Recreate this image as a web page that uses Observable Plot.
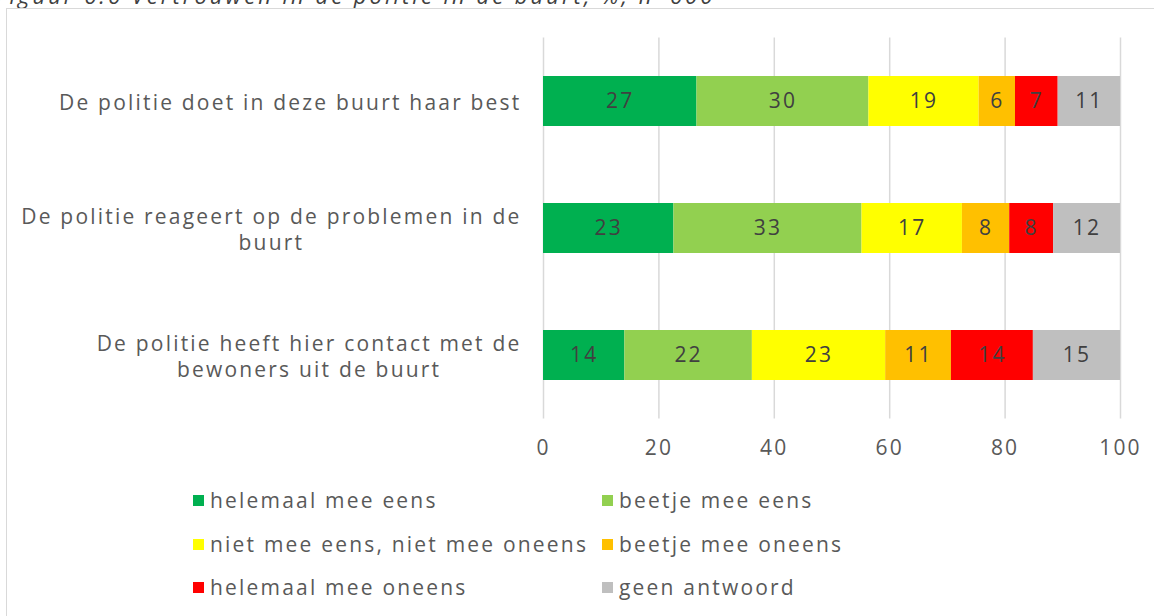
<!DOCTYPE html>
<html><head><meta charset="utf-8">
<script src="https://cdn.jsdelivr.net/npm/d3@7"></script>
<script src="https://cdn.jsdelivr.net/npm/@observablehq/plot@0.6"></script>
<style>
html,body{margin:0;padding:0;background:#fff;width:1154px;height:616px;overflow:hidden;position:relative;font-family:"Open Sans",sans-serif;}
#title{position:absolute;left:-4px;top:-15px;font-style:italic;font-size:22px;line-height:20px;color:#404040;letter-spacing:3px;white-space:nowrap;}
#frame{position:absolute;left:6px;top:8px;width:1300px;height:800px;border:1.5px solid #d9d9d9;box-sizing:border-box;}
#chart{position:absolute;left:0;top:0;}
#chart svg text{letter-spacing:2.2px;}
.item{position:absolute;height:28px;display:flex;align-items:center;font-size:21px;letter-spacing:2.2px;color:#595959;white-space:nowrap;}
.sw{width:11px;height:11px;margin-right:6px;flex:none;}
</style></head><body>
<div id="title">Figuur 6.6 Vertrouwen in de politie in de buurt, %, n=600</div>
<div id="frame"></div>
<div id="chart"></div>
<div id="legend"></div>
<script>
const items = [
  "De politie doet in deze buurt haar best",
  "De politie reageert op de problemen in de buurt",
  "De politie heeft hier contact met de bewoners uit de buurt"
];
const itemLabels = [
  "De politie doet in deze buurt haar best",
  "De politie reageert op de problemen in de\nbuurt",
  "De politie heeft hier contact met de\nbewoners uit de buurt"
];
const answers = [
  "helemaal mee eens",
  "beetje mee eens",
  "niet mee eens, niet mee oneens",
  "beetje mee oneens",
  "helemaal mee oneens",
  "geen antwoord"
];
const colors = ["#00B050", "#92D050", "#FFFF00", "#FFC000", "#FF0000", "#BFBFBF"];
const helemaalMeeEens   = [26.6, 22.6, 14.1];
const beetjeMeeEens     = [29.8, 32.6, 22.1];
const nietEensNietOneens= [19.1, 17.4, 23.1];
const beetjeMeeOneens   = [6.3, 8.2, 11.4];
const helemaalMeeOneens = [7.4, 7.6, 14.2];
const geenAntwoord      = [10.8, 11.6, 15.1];
const xTicks = [0, 20, 40, 60, 80, 100];

const series = [helemaalMeeEens, beetjeMeeEens, nietEensNietOneens, beetjeMeeOneens, helemaalMeeOneens, geenAntwoord];
const table = [];
items.forEach((item, i) => answers.forEach((answer, j) => table.push({item, answer, value: series[j][i]})));
const labelMap = new Map(items.map((d, i) => [d, itemLabels[i]]));
const fmt = d3.format(".0f");

const plot = Plot.plot({
  width: 1154,
  height: 470,
  marginLeft: 543,
  marginRight: 34,
  marginTop: 37.5,
  marginBottom: 51.5,
  style: {fontFamily: '"Open Sans", sans-serif', fontSize: "21px", background: "transparent", color: "#595959"},
  x: {domain: [0, 100], ticks: xTicks, label: null},
  y: {domain: items, paddingInner: 0.606, paddingOuter: 0.303, label: null},
  color: {domain: answers, range: colors},
  marks: [
    Plot.gridX(xTicks, {stroke: "#d9d9d9", strokeOpacity: 1, strokeWidth: 1.5}),
    Plot.barX(table, Plot.stackX({x: "value", y: "item", fill: "answer", order: answers})),
    Plot.text(table, Plot.stackX({x: "value", y: "item", z: "answer", order: answers, text: d => fmt(d.value), fill: "#404040", fontSize: 21})),
    Plot.axisX({ticks: xTicks, tickSize: 0, tickPadding: 21, fill: "#595959", fontSize: 21, label: null}),
    Plot.axisY({tickSize: 0, tickPadding: 22, tickFormat: d => labelMap.get(d), textAnchor: "middle", lineHeight: 1.25, fontSize: 21, fill: "#595959", label: null})
  ]
});
document.getElementById("chart").append(plot);

// centre the lines of each category label inside its right-aligned block
plot.querySelectorAll('g[aria-label="y-axis tick label"] text').forEach(t => {
  const spans = t.querySelectorAll("tspan");
  if (spans.length) {
    let w = 0;
    spans.forEach(s => { w = Math.max(w, s.getComputedTextLength()); });
    spans.forEach(s => s.setAttribute("x", -w / 2));
  } else {
    t.setAttribute("x", -t.getComputedTextLength() / 2);
  }
});

// legend
const legendPos = [[193, 500], [602, 500], [193, 544], [602, 544], [193, 587], [602, 587]];
const legend = document.getElementById("legend");
answers.forEach((a, i) => {
  const el = document.createElement("div");
  el.className = "item";
  el.style.left = legendPos[i][0] + "px";
  el.style.top = (legendPos[i][1] - 14) + "px";
  const sw = document.createElement("span");
  sw.className = "sw";
  sw.style.background = colors[i];
  el.append(sw, document.createTextNode(a));
  legend.append(el);
});
</script>
</body></html>
